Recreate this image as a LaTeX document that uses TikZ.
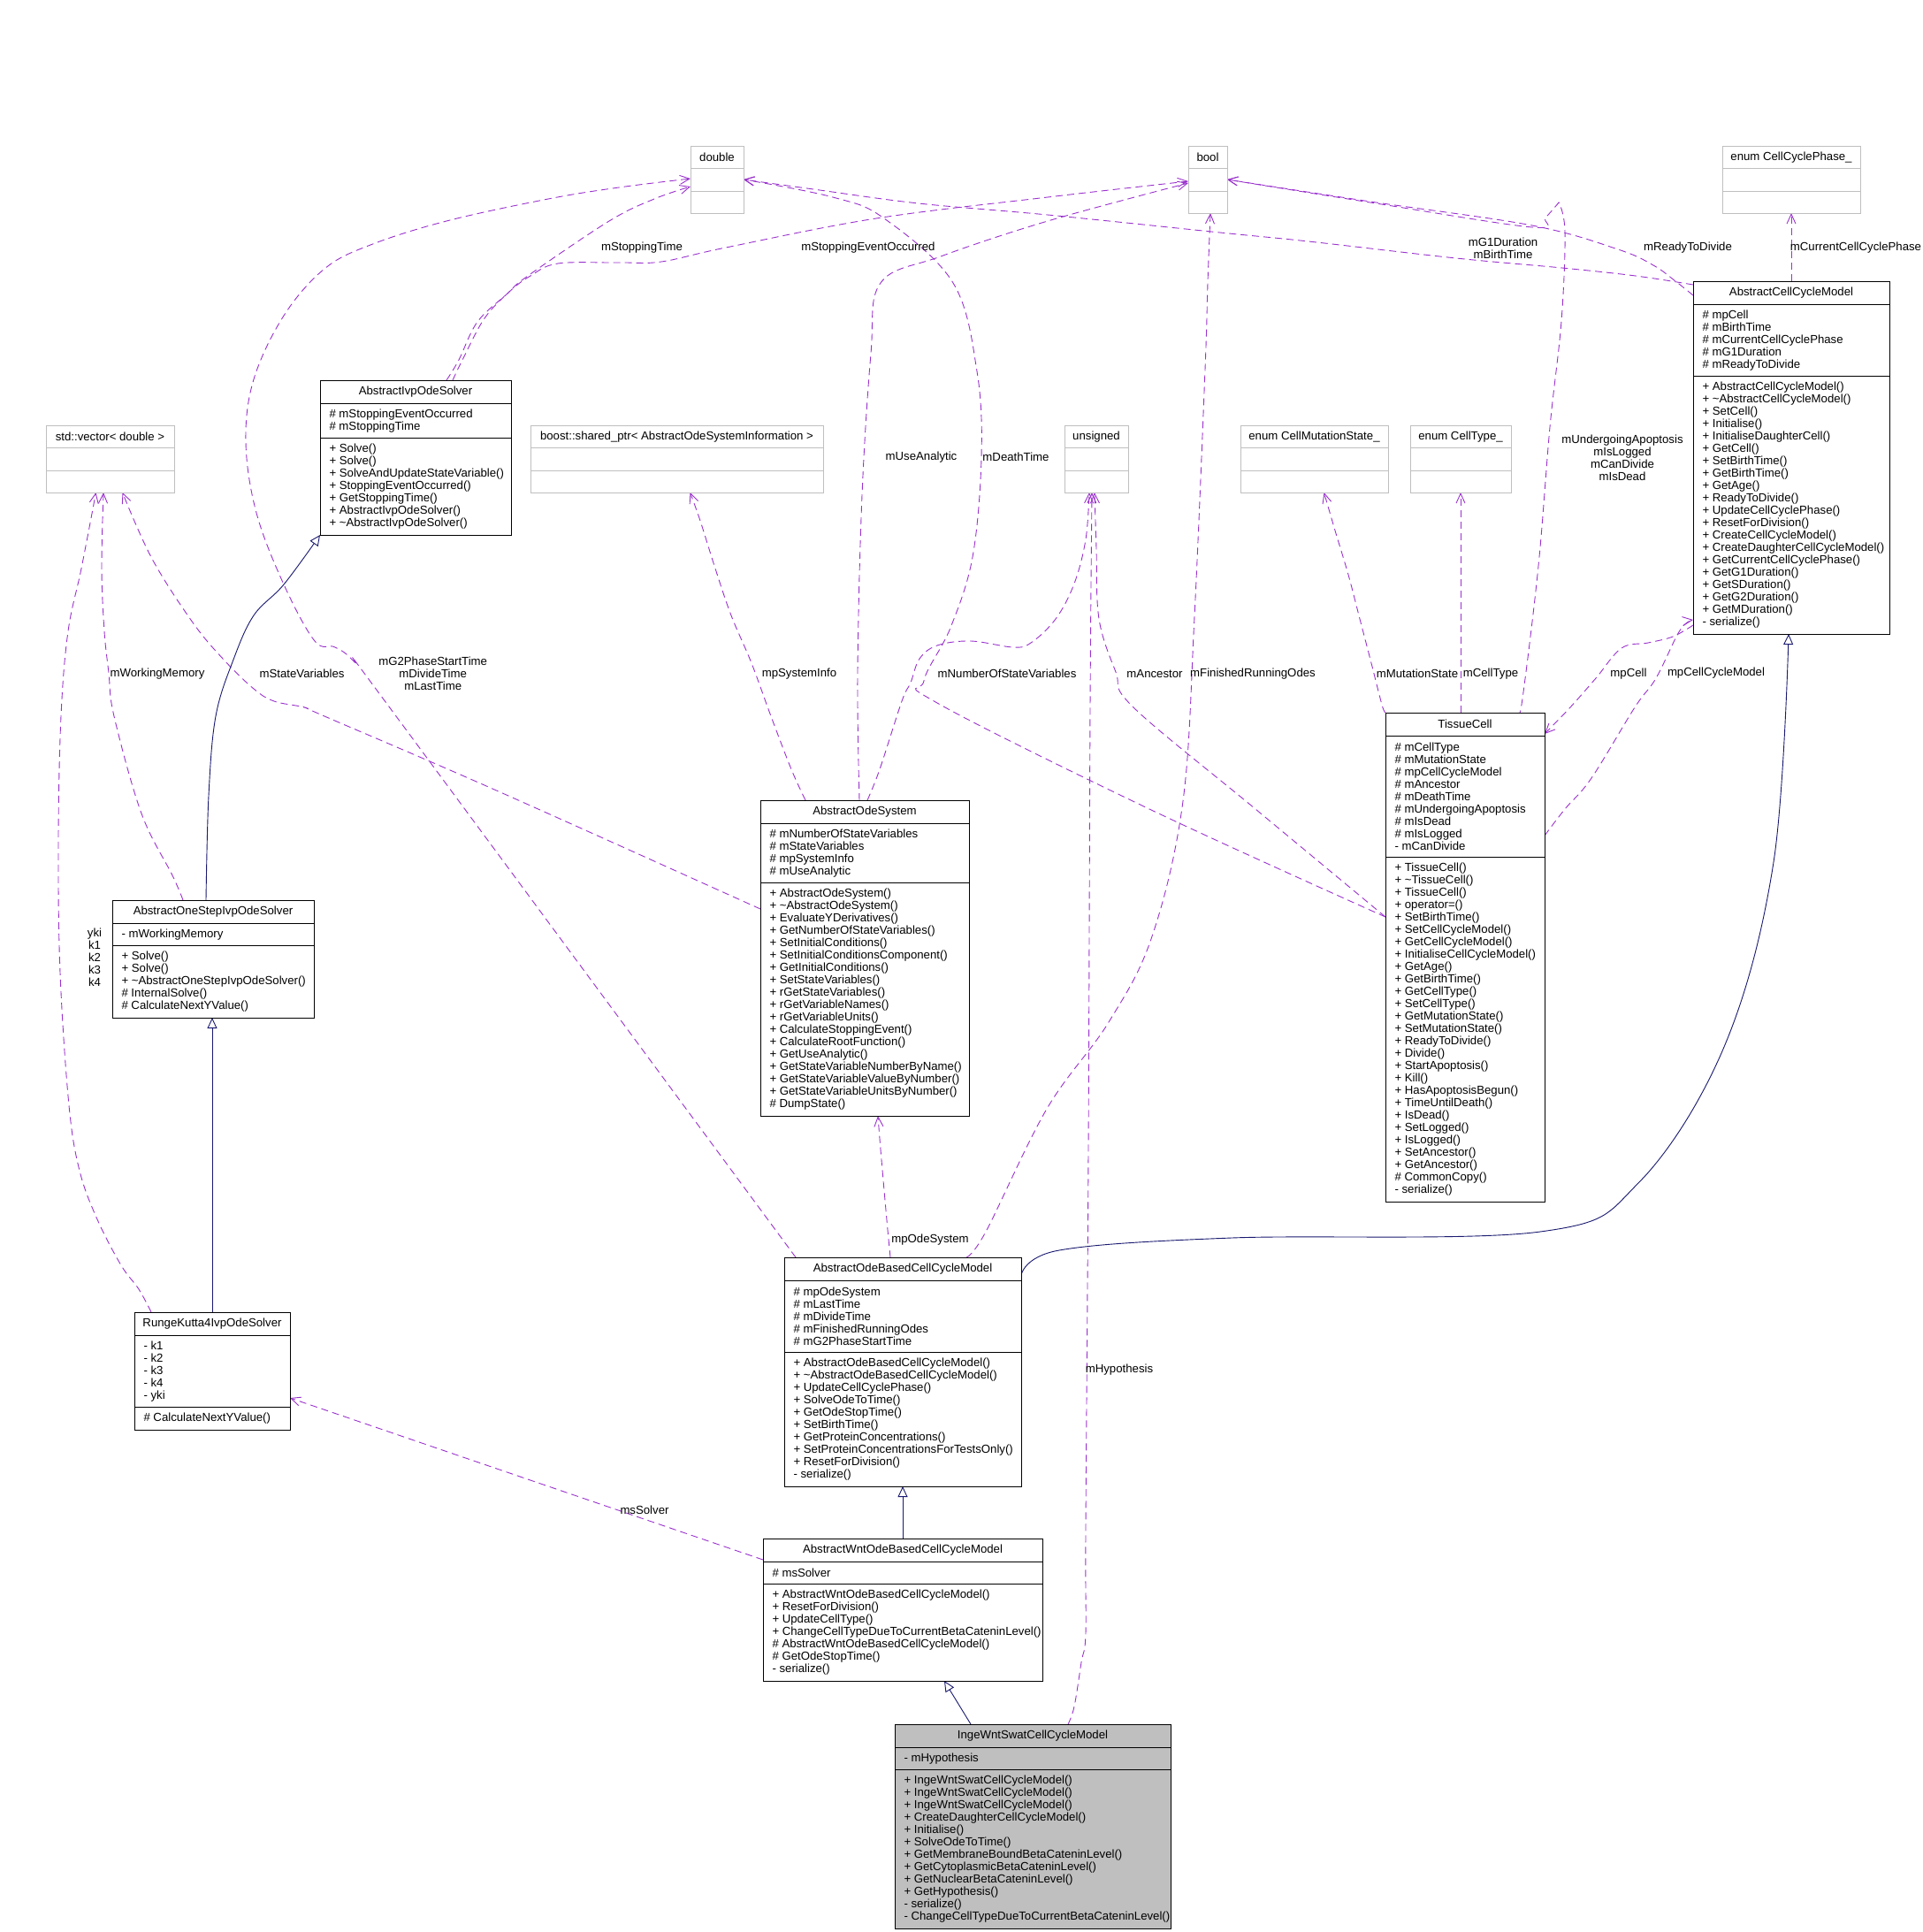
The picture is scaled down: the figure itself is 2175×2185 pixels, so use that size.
\documentclass[tikz,border=0pt]{standalone}
\usepackage{fontspec}
\setmainfont{Liberation Sans}
\usetikzlibrary{arrows.meta}
\definecolor{usecol}{HTML}{9A32CD}
\definecolor{inhcol}{HTML}{191970}
\definecolor{gry}{HTML}{BFBFBF}
\pgfdeclarelayer{bg}
\pgfsetlayers{bg,main}
\tikzset{
  txt/.style={inner sep=0pt, outer sep=0pt, font=\fontsize{13.2}{14}\selectfont, text=black},
  clsbox/.style={draw=black, line width=0.9pt, inner sep=0pt, outer sep=0pt},
  typebox/.style={draw=gry, line width=0.9pt, fill=white, inner sep=0pt, outer sep=0pt},
  use/.style={draw=usecol, line width=0.9pt, dash pattern=on 8pt off 5pt, -{Straight Barb[length=11pt,width=10pt]}},
  inh/.style={draw=inhcol, line width=0.9pt, -{Triangle[open,length=12pt,width=11pt,fill=white]}},
  lbl/.style={txt, align=center},
}
\def\clsfill{white}
\newcommand\umlcls[9]{%
  \pgfmathsetmacro\clsHA{max(#6,1)*14+11.5}%
  \pgfmathsetmacro\clsHB{max(#8,1)*14+11.5}%
  \pgfmathsetmacro\clsHT{26+\clsHA+\clsHB}%
  \pgfmathsetmacro\clsYA{-26-0.5*\clsHA}%
  \pgfmathsetmacro\clsYS{-26-\clsHA}%
  \pgfmathsetmacro\clsYB{-26-\clsHA-0.5*\clsHB}%
  \node[clsbox, fill=\clsfill, minimum width=#4pt, minimum height=\clsHT pt, anchor=north west] (#1) at (#2,#3) {};
  \draw[line width=0.9pt] ([yshift=-26pt]#1.north west) -- ([yshift=-26pt]#1.north east);
  \draw[line width=0.9pt] ([yshift=\clsYS pt]#1.north west) -- ([yshift=\clsYS pt]#1.north east);
  \node[txt] (#1-t) at ([yshift=-13pt]#1.north) {#5};
  \node[txt, align=left, anchor=west] (#1-a) at ([xshift=10.5pt, yshift=\clsYA pt]#1.north west) {#7};
  \node[txt, align=left, anchor=west] (#1-m) at ([xshift=10.5pt, yshift=\clsYB pt]#1.north west) {#9};
}
\newcommand\umltype[5]{%
  \node[typebox, minimum width=#4pt, minimum height=76pt, anchor=north west] (#1) at (#2,#3) {};
  \draw[gry, line width=0.9pt] ([yshift=-25.7pt]#1.north west) -- ([yshift=-25.7pt]#1.north east);
  \draw[gry, line width=0.9pt] ([yshift=-51.3pt]#1.north west) -- ([yshift=-51.3pt]#1.north east);
  \node[txt] (#1-t) at ([yshift=-13pt]#1.north) {#5};
}
\begin{document}
\begin{tikzpicture}[x=1pt,y=-1pt]
\useasboundingbox (0,0) rectangle (2175,2185);

% ---------- type boxes
\umltype{dbl}{781}{165}{60}{double}
\umltype{bool}{1344}{165}{44}{bool}
\umltype{ccp}{1948}{165}{156}{enum CellCyclePhase\_}
\umltype{vec}{52}{481}{145}{std::vector< double >}
\umltype{boost}{600}{481}{331}{boost::shared\_ptr< AbstractOdeSystemInformation >}
\umltype{uns}{1204}{481}{72}{unsigned}
\umltype{cms}{1403}{481}{167}{enum CellMutationState\_}
\umltype{ct}{1595}{481}{114}{enum CellType\_}

% ---------- class boxes
\umlcls{aivp}{362}{430}{216}{AbstractIvpOdeSolver}{2}{\# mStoppingEventOccurred\\\# mStoppingTime}{7}{+ Solve()\\+ Solve()\\+ SolveAndUpdateStateVariable()\\+ StoppingEventOccurred()\\+ GetStoppingTime()\\+ AbstractIvpOdeSolver()\\+ \textasciitilde AbstractIvpOdeSolver()}

\umlcls{acm}{1915}{318}{222}{AbstractCellCycleModel}{5}{\# mpCell\\\# mBirthTime\\\# mCurrentCellCyclePhase\\\# mG1Duration\\\# mReadyToDivide}{20}{+ AbstractCellCycleModel()\\+ \textasciitilde AbstractCellCycleModel()\\+ SetCell()\\+ Initialise()\\+ InitialiseDaughterCell()\\+ GetCell()\\+ SetBirthTime()\\+ GetBirthTime()\\+ GetAge()\\+ ReadyToDivide()\\+ UpdateCellCyclePhase()\\+ ResetForDivision()\\+ CreateCellCycleModel()\\+ CreateDaughterCellCycleModel()\\+ GetCurrentCellCyclePhase()\\+ GetG1Duration()\\+ GetSDuration()\\+ GetG2Duration()\\+ GetMDuration()\\- serialize()}

\umlcls{tc}{1567}{806}{180}{TissueCell}{9}{\# mCellType\\\# mMutationState\\\# mpCellCycleModel\\\# mAncestor\\\# mDeathTime\\\# mUndergoingApoptosis\\\# mIsDead\\\# mIsLogged\\- mCanDivide}{27}{+ TissueCell()\\+ \textasciitilde TissueCell()\\+ TissueCell()\\+ operator=()\\+ SetBirthTime()\\+ SetCellCycleModel()\\+ GetCellCycleModel()\\+ InitialiseCellCycleModel()\\+ GetAge()\\+ GetBirthTime()\\+ GetCellType()\\+ SetCellType()\\+ GetMutationState()\\+ SetMutationState()\\+ ReadyToDivide()\\+ Divide()\\+ StartApoptosis()\\+ Kill()\\+ HasApoptosisBegun()\\+ TimeUntilDeath()\\+ IsDead()\\+ SetLogged()\\+ IsLogged()\\+ SetAncestor()\\+ GetAncestor()\\\# CommonCopy()\\- serialize()}

\umlcls{aos}{860}{905}{236}{AbstractOdeSystem}{4}{\# mNumberOfStateVariables\\\# mStateVariables\\\# mpSystemInfo\\\# mUseAnalytic}{18}{+ AbstractOdeSystem()\\+ \textasciitilde AbstractOdeSystem()\\+ EvaluateYDerivatives()\\+ GetNumberOfStateVariables()\\+ SetInitialConditions()\\+ SetInitialConditionsComponent()\\+ GetInitialConditions()\\+ SetStateVariables()\\+ rGetStateVariables()\\+ rGetVariableNames()\\+ rGetVariableUnits()\\+ CalculateStoppingEvent()\\+ CalculateRootFunction()\\+ GetUseAnalytic()\\+ GetStateVariableNumberByName()\\+ GetStateVariableValueByNumber()\\+ GetStateVariableUnitsByNumber()\\\# DumpState()}

\umlcls{aosivp}{127}{1018}{228}{AbstractOneStepIvpOdeSolver}{1}{- mWorkingMemory}{5}{+ Solve()\\+ Solve()\\+ \textasciitilde AbstractOneStepIvpOdeSolver()\\\# InternalSolve()\\\# CalculateNextYValue()}

\umlcls{rk4}{152}{1484}{176}{RungeKutta4IvpOdeSolver}{5}{- k1\\- k2\\- k3\\- k4\\- yki}{1}{\# CalculateNextYValue()}

\umlcls{aobccm}{887}{1422}{268}{AbstractOdeBasedCellCycleModel}{5}{\# mpOdeSystem\\\# mLastTime\\\# mDivideTime\\\# mFinishedRunningOdes\\\# mG2PhaseStartTime}{10}{+ AbstractOdeBasedCellCycleModel()\\+ \textasciitilde AbstractOdeBasedCellCycleModel()\\+ UpdateCellCyclePhase()\\+ SolveOdeToTime()\\+ GetOdeStopTime()\\+ SetBirthTime()\\+ GetProteinConcentrations()\\+ SetProteinConcentrationsForTestsOnly()\\+ ResetForDivision()\\- serialize()}

\umlcls{awobccm}{863}{1740}{316}{AbstractWntOdeBasedCellCycleModel}{1}{\# msSolver}{7}{+ AbstractWntOdeBasedCellCycleModel()\\+ ResetForDivision()\\+ UpdateCellType()\\+ ChangeCellTypeDueToCurrentBetaCateninLevel()\\\# AbstractWntOdeBasedCellCycleModel()\\\# GetOdeStopTime()\\- serialize()}

\def\clsfill{gry}
\umlcls{inge}{1012}{1950}{312}{IngeWntSwatCellCycleModel}{1}{- mHypothesis}{12}{+ IngeWntSwatCellCycleModel()\\+ IngeWntSwatCellCycleModel()\\+ IngeWntSwatCellCycleModel()\\+ CreateDaughterCellCycleModel()\\+ Initialise()\\+ SolveOdeToTime()\\+ GetMembraneBoundBetaCateninLevel()\\+ GetCytoplasmicBetaCateninLevel()\\+ GetNuclearBetaCateninLevel()\\+ GetHypothesis()\\- serialize()\\- ChangeCellTypeDueToCurrentBetaCateninLevel()}
\def\clsfill{white}

% ---------- edge labels
\node[lbl] (lStopT) at (726,280) {mStoppingTime};
\node[lbl] (lStopE) at (982,280) {mStoppingEventOccurred};
\node[lbl] (lG1) at (1700,280.7) {mG1Duration\\mBirthTime};
\node[lbl] (lRTD) at (1909,280) {mReadyToDivide};
\node[lbl] (lCCP) at (2099,280) {mCurrentCellCyclePhase};
\node[lbl] (lUA) at (1835,517.7) {mUndergoingApoptosis\\mIsLogged\\mCanDivide\\mIsDead};
\node[lbl] (lUse) at (1042,517) {mUseAnalytic};
\node[lbl] (lDeath) at (1149,517) {mDeathTime};
\node[lbl] (lWM) at (178,762) {mWorkingMemory};
\node[lbl] (lSV) at (341.6,762) {mStateVariables};
\node[lbl] (lG2) at (489.7,761.7) {mG2PhaseStartTime\\mDivideTime\\mLastTime};
\node[lbl] (lSI) at (904,762) {mpSystemInfo};
\node[lbl] (lNSV) at (1139,762) {mNumberOfStateVariables};
\node[lbl] (lAnc) at (1306,762) {mAncestor};
\node[lbl] (lFRO) at (1417,762) {mFinishedRunningOdes};
\node[lbl] (lMS) at (1603,762) {mMutationState};
\node[lbl] (lCT) at (1686,762) {mCellType};
\node[lbl] (lpC) at (1842,762) {mpCell};
\node[lbl] (lpCCM) at (1941,761) {mpCellCycleModel};
\node[lbl] (lRK) at (107,1082.5) {yki\\k1\\k2\\k3\\k4};
\node[lbl] (lOde) at (1052,1402) {mpOdeSystem};
\node[lbl] (lHyp) at (1266,1549) {mHypothesis};
\node[lbl] (lSol) at (729,1708) {msSolver};

% ---------- edges
\begin{pgfonlayer}{bg}
\fill[white] (0,0) rectangle (2175,2185);
% usage edges
\draw[use] plot[smooth, tension=0.6] coordinates {([xshift=143pt]aivp.north west) (519,407) (540,364) (574,332) (597,312) (689,250) (740,225) ([yshift=-8pt]dbl.west)};
\draw[use] plot[smooth, tension=0.6] coordinates {([xshift=150pt]aivp.north west) (524,405) (548,360) (576,330) (600,312) (631,298) (700,297) (748,296) (821,280) (991,247) (1185,223) ([yshift=-2pt]bool.west)};
\draw[use] plot[smooth, tension=0.6] coordinates {([xshift=13pt]aobccm.north west) (448,810) (402,750) (379,732) (356,725) (321,661) (290,580) (278,500) (287,429) (321,357) (367,304) (419,277) (505,250) (620,225) (700,212) ([yshift=1pt]dbl.west)};
\draw[use] plot[smooth, tension=0.6] coordinates {([yshift=45.5pt]tc.west) (1300,915) (1060,795) (1045,770) (1075,710) (1100,630) (1110,517) (1105,420) (1078,320) (1000,247) (942,223) (dbl.east)};
\draw[use] plot[smooth, tension=0.6] coordinates {([yshift=-4pt]acm.north west) (1850,312) (1767,303) (1647,292) (1480,273) (1380,263) (1185,243) (1039,230) (920,214) (dbl.east)};
\draw[use] plot[smooth, tension=0.6] coordinates {([yshift=-16pt]acm.north west) (1895,318) (1870,300) (1830,282) (1733,255) (1550,228) (bool.east)};
\draw[use] plot[smooth, tension=0.6] coordinates {([xshift=150pt]tc.north west) (1722,790) (1740,640) (1753,483) (1766,363) (1770,262) (1763,229)} -- plot[smooth, tension=0.6] coordinates {(1763,229) (1748,246) (1733,257) (1550,229) (bool.east)};
\draw[use] (acm.north) -- (ccp.south);
\draw[use] plot[smooth, tension=0.6] coordinates {([xshift=112pt]aos.north west) (970,760) (975,560) (985,400) (996,320) (1064,290) (1185,250) ([yshift=-4pt]bool.west)};
\draw[use] plot[smooth, tension=0.6] coordinates {([xshift=206pt]aobccm.north west) (1115,1393) (1184,1254) (1254,1156) (1303,1059) (1338,906) (1351,697) (1363,418) (1366,320) ([xshift=3pt]bool.south)};
\draw[use] plot[smooth, tension=0.6] coordinates {([xshift=80pt]aosivp.north west) (195,990) (160,920) (129,810) (123,761) (118,714) (115,643) ([xshift=-7.5pt]vec.south)};
\draw[use] plot[smooth, tension=0.6] coordinates {([xshift=19pt]rk4.north west) (157,1458) (137,1431) (110,1379) (90,1324) (78,1250) (68,1100) (66,950) (69,810) (77,714) (92,643) ([xshift=-16pt]vec.south)};
\draw[use] plot[smooth, tension=0.6] coordinates {([yshift=55.5pt]aos.west) (557,892) (367,810) (344,800) (310,793) (287,779) (253,746) (218,704) (172,632) ([xshift=14pt]vec.south)};
\draw[use] plot[smooth, tension=0.6] coordinates {([xshift=51pt]aos.north west) (895,870) (872,810) (850,750) (827,696) (809,643) (792,589) ([xshift=15pt]boost.south)};
\draw[use] plot[smooth, tension=0.6] coordinates {([xshift=121pt]aos.north west) (995,870) (1020,793) (1030,772) (1040,745) (1060,730) (1098,725) (1146,732) (1166,727) (1194,700) (1215,660) (1228,610) ([xshift=-8pt]uns.south)};
\draw[use] plot[smooth, tension=0.6] coordinates {([yshift=45.5pt]tc.west) (1420,915) (1282,800) (1262,760) (1243,700) (1240,620) ([xshift=-2pt]uns.south)};
\draw[use] plot[smooth, tension=0.6] coordinates {([xshift=196pt]inge.north west) (1215,1930) (1223,1880) (1228,1847) (1228,1730) (1231,1300) (1233,800) ([xshift=-5pt]uns.south)};
\draw[use] plot[smooth, tension=0.6] coordinates {(tc.north west) (1563,797) (1551,750) (1538,700) (1525,650) (1510,600) ([xshift=11pt]cms.south)};
\draw[use] ([xshift=85pt]tc.north west) -- (ct.south);
\draw[use] plot[smooth, tension=0.6] coordinates {([yshift=10pt]acm.south west) (1892,720) (1864,727) (1834,733) (1805,767) (1776,800) ([yshift=-24pt]tc.north east)};
\draw[use] plot[smooth, tension=0.6] coordinates {([yshift=137.5pt]tc.east) (1770,915) (1800,880) (1849,800) (1873,767) (1900,713) ([yshift=16pt]acm.south west)};
\draw[use] plot[smooth, tension=0.6] coordinates {([xshift=120pt]aobccm.north west) (1003,1380) (996,1300) ([xshift=133pt]aos.south west)};
\draw[use] ([yshift=56.5pt]awobccm.west) -- ([yshift=-30.5pt]rk4.east);
% inheritance edges
\draw[inh] plot[smooth, tension=0.6] coordinates {([xshift=106pt]aosivp.north west) (236,900) (244,810) (264,746) (287,696) (321,661) (aivp.south west)};
\draw[inh] ([xshift=88pt]rk4.north west) -- ([xshift=113pt]aosivp.south west);
\draw[inh] plot[smooth, tension=0.6] coordinates {([yshift=-20pt]aobccm.north east) (1198,1414) (1393,1400) (1742,1393) (1853,1338) (1950,1184) (2006,975) ([xshift=-3pt]acm.south)};
\draw[inh] (awobccm.north) -- (aobccm.south);
\draw[inh] ([xshift=86pt]inge.north west) -- ([xshift=205pt]awobccm.south west);
\end{pgfonlayer}
\end{tikzpicture}
\end{document}
